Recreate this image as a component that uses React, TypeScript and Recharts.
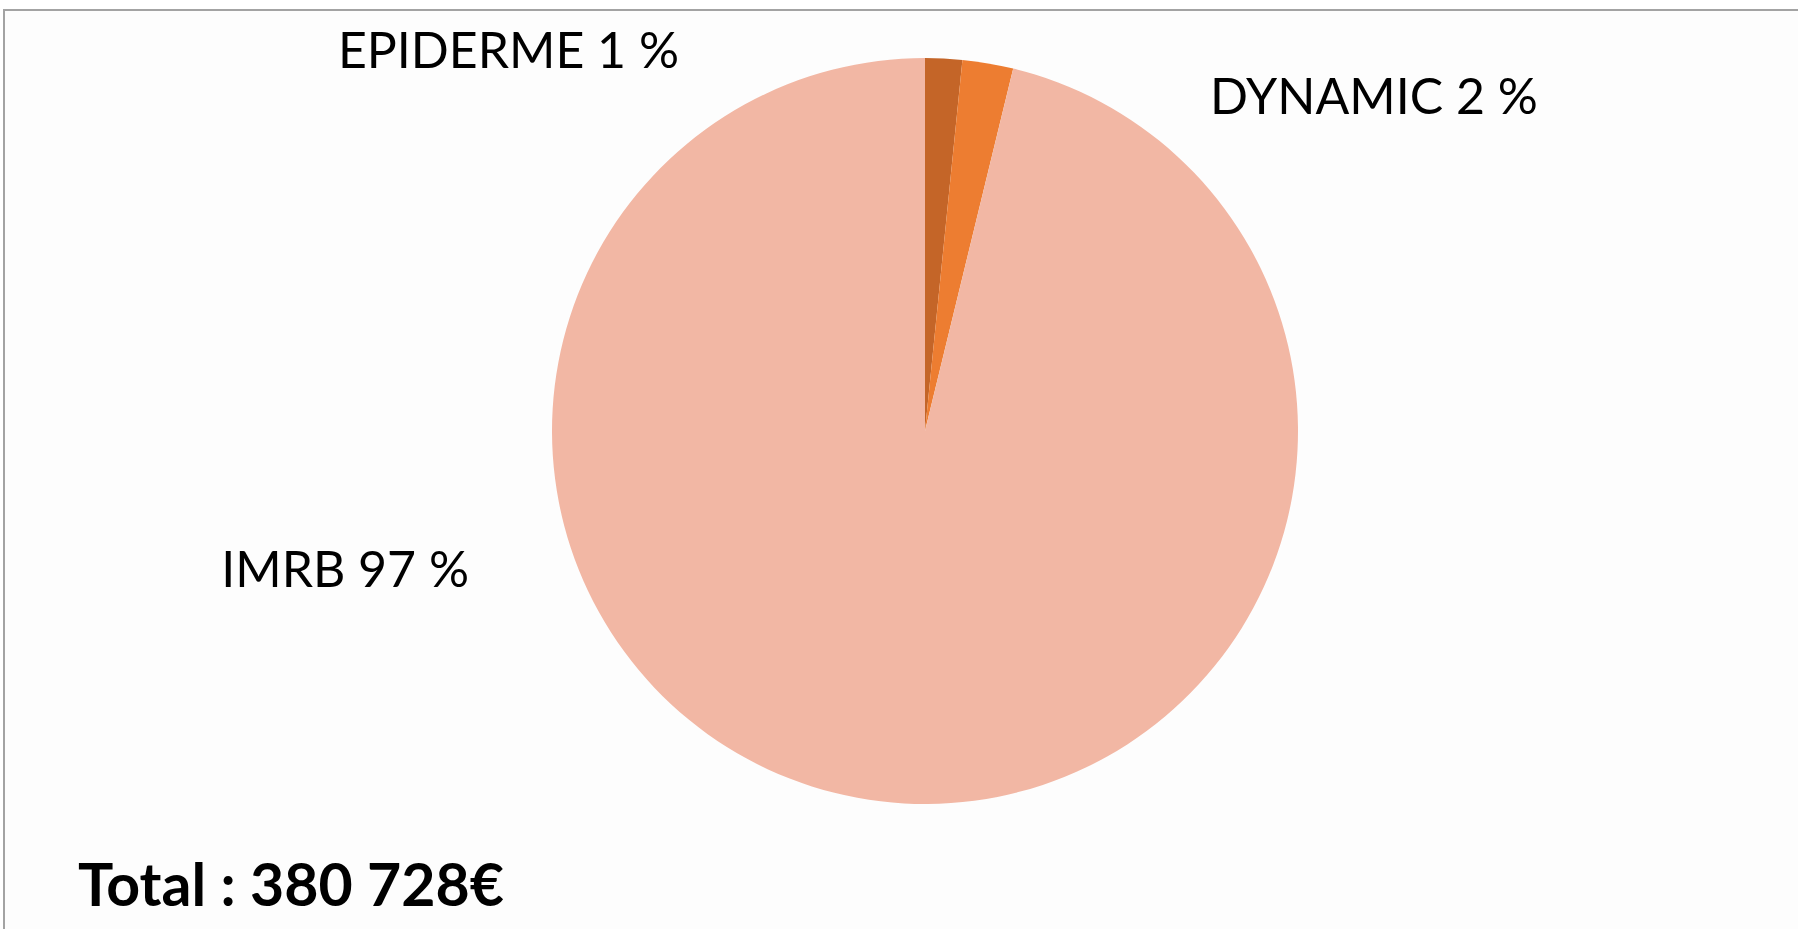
import React from 'react';
import { PieChart, Pie, Cell } from 'recharts';

const names = ['EPIDERME', 'DYNAMIC', 'IMRB'];
const shares = [1.6, 2.2, 96.2];
const shownPercents = ['1 %', '2 %', '97 %'];
const colors = ['#C46528', '#ED7D31', '#F2B7A4'];
const totalLabel = 'Total : 380 728€';

const data = names.map((name, i) => ({ name, value: shares[i] }));

// where each label sits, relative to the pie centre
const labelLayout: Record<string, { dx: number; dy: number; anchor: 'start' | 'end' }> = {
  EPIDERME: { dx: -246, dy: -363, anchor: 'end' },
  DYNAMIC: { dx: 285, dy: -317, anchor: 'start' },
  IMRB: { dx: -456, dy: 156, anchor: 'end' },
};

const renderLabel = (props: any) => {
  const { cx, cy, index, name } = props;
  const pos = labelLayout[name];
  return (
    <text
      x={cx + pos.dx}
      y={cy + pos.dy}
      textAnchor={pos.anchor}
      fill="#000"
      fontFamily="Lato, 'Open Sans', sans-serif"
      fontSize={50}
    >
      {`${name} ${shownPercents[index]}`}
    </text>
  );
};

export default function App() {
  return (
    <div style={{ position: 'absolute', left: 0, top: 0, width: 1798, height: 929, overflow: 'hidden', background: '#fff' }}>
      <div
        style={{
          position: 'absolute',
          left: 3,
          top: 9,
          width: 1900,
          height: 1000,
          border: '2px solid #a3a3a3',
          background: '#fdfdfd',
        }}
      />
      <div style={{ position: 'absolute', left: 0, top: 0 }}>
        <PieChart width={1798} height={929}>
          <Pie
            data={data}
            dataKey="value"
            nameKey="name"
            cx={920}
            cy={426}
            outerRadius={373}
            startAngle={90}
            endAngle={-270}
            stroke="none"
            label={renderLabel}
            labelLine={false}
            isAnimationActive={false}
          >
            {data.map((d, i) => (
              <Cell key={d.name} fill={colors[i]} />
            ))}
          </Pie>
          <text
            x={78}
            y={906}
            fill="#000"
            fontFamily="Lato, 'Open Sans', sans-serif"
            fontWeight={700}
            fontSize={59}
          >
            {totalLabel}
          </text>
        </PieChart>
      </div>
    </div>
  );
}
